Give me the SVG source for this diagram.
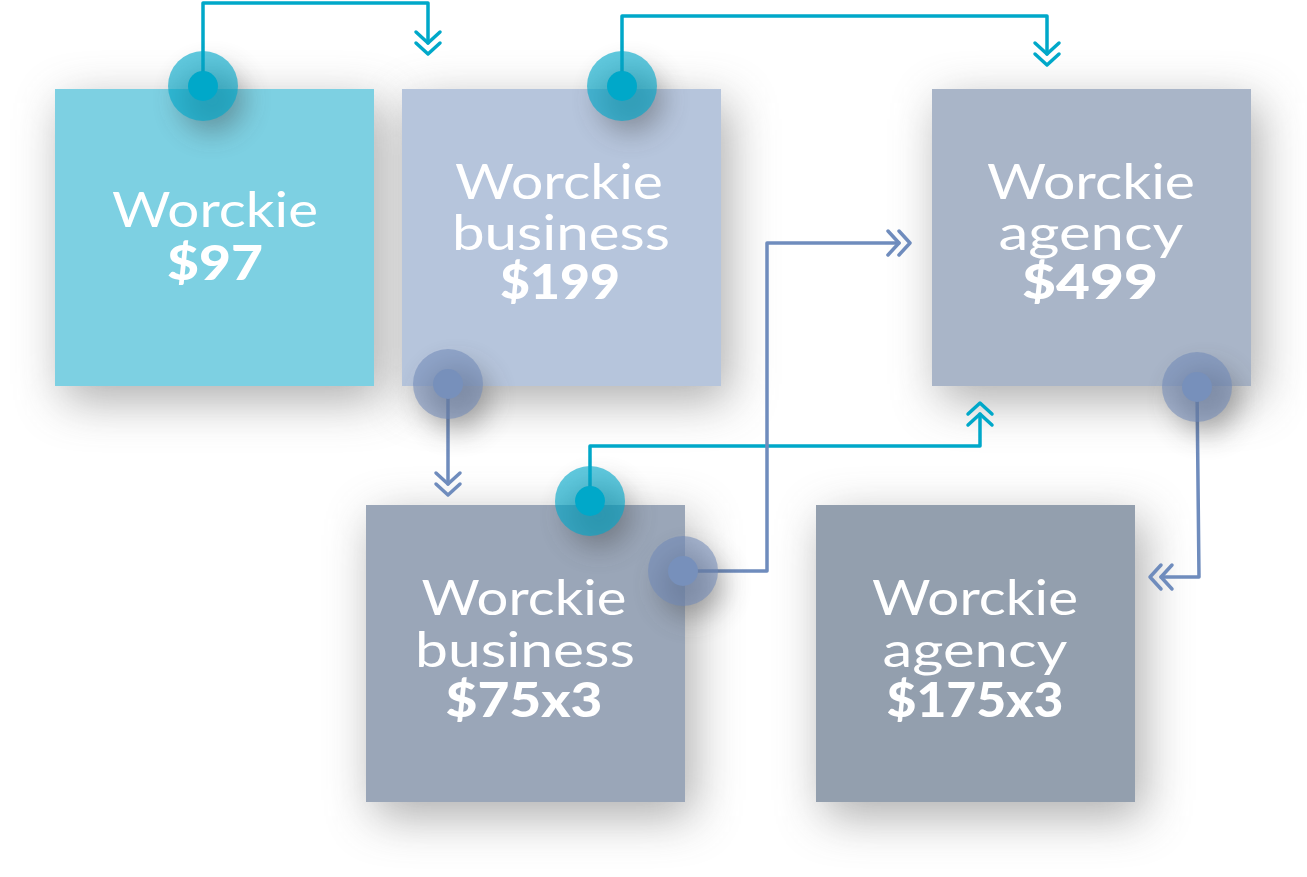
<svg xmlns="http://www.w3.org/2000/svg" xmlns:xlink="http://www.w3.org/1999/xlink" width="1307" height="877" viewBox="0 0 1307 877">
<style>
.lbl{font-family:"Lato","Noto Sans","Liberation Sans",sans-serif;font-size:48px;fill:#ffffff;text-anchor:middle;}
.reg{font-weight:400;}
.price{font-weight:900;}
.teal{stroke:#00a8c9;}
.blue{stroke:#6f8cbd;}
.ln{fill:none;stroke-width:3.5;stroke-linejoin:round;stroke-linecap:round;}
.shadow{fill:#5a5a5a;opacity:0.5;filter:url(#blur);}
.dshadow{fill:#3a3a3a;opacity:0.4;filter:url(#blur2);}
</style>
<defs>
<filter id="blur" x="-40%" y="-40%" width="180%" height="180%">
<feGaussianBlur stdDeviation="24"/>
</filter>
<filter id="blur2" x="-80%" y="-80%" width="260%" height="260%">
<feGaussianBlur stdDeviation="14"/>
</filter>
<path id="chev" d="M-12,-11 L0,0 L12,-11 M-12,0 L0,11 L12,0"/>
</defs>
<rect width="1307" height="877" fill="#ffffff"/>

<g id="shadows">
<rect class="shadow" x="63" y="103" width="319" height="297"/>
<rect class="shadow" x="410" y="103" width="319" height="297"/>
<rect class="shadow" x="940" y="103" width="319" height="297"/>
<rect class="shadow" x="374" y="519" width="319" height="297"/>
<rect class="shadow" x="824" y="519" width="319" height="297"/>
</g>

<g id="node-worckie">
<rect x="55" y="89" width="319" height="297" fill="#7dd0e2"/>
<text class="lbl reg" x="215" y="227" textLength="206" lengthAdjust="spacingAndGlyphs">Worckie</text>
<text class="lbl price" x="215" y="280" textLength="96" lengthAdjust="spacingAndGlyphs">$97</text>
</g>

<g id="node-business">
<rect x="402" y="89" width="319" height="297" fill="#b6c5dc"/>
<text class="lbl reg" x="559" y="199" textLength="208" lengthAdjust="spacingAndGlyphs">Worckie</text>
<text class="lbl reg" x="561" y="250" textLength="218" lengthAdjust="spacingAndGlyphs">business</text>
<text class="lbl price" x="560" y="299" textLength="120" lengthAdjust="spacingAndGlyphs">$199</text>
</g>

<g id="node-agency">
<rect x="932" y="89" width="319" height="297" fill="#a9b5c8"/>
<text class="lbl reg" x="1091" y="199" textLength="208" lengthAdjust="spacingAndGlyphs">Worckie</text>
<text class="lbl reg" x="1091" y="250" textLength="185" lengthAdjust="spacingAndGlyphs">agency</text>
<text class="lbl price" x="1090" y="299" textLength="136" lengthAdjust="spacingAndGlyphs">$499</text>
</g>

<g id="node-business-x3">
<rect x="366" y="505" width="319" height="297" fill="#9aa6b8"/>
<text class="lbl reg" x="524" y="615" textLength="205" lengthAdjust="spacingAndGlyphs">Worckie</text>
<text class="lbl reg" x="525" y="667" textLength="220" lengthAdjust="spacingAndGlyphs">business</text>
<text class="lbl price" x="524" y="717" textLength="157" lengthAdjust="spacingAndGlyphs">$75x3</text>
</g>

<g id="node-agency-x3">
<rect x="816" y="505" width="319" height="297" fill="#939fae"/>
<text class="lbl reg" x="975" y="615" textLength="206" lengthAdjust="spacingAndGlyphs">Worckie</text>
<text class="lbl reg" x="975" y="667" textLength="185" lengthAdjust="spacingAndGlyphs">agency</text>
<text class="lbl price" x="975" y="717" textLength="177" lengthAdjust="spacingAndGlyphs">$175x3</text>
</g>

<g id="connectors">
<path class="ln teal" d="M203,86 V3 H428 V43"/>
<use xlink:href="#chev" class="ln teal" transform="translate(428,43)"/>
<path class="ln teal" d="M622,86 V16 H1047 V54"/>
<use xlink:href="#chev" class="ln teal" transform="translate(1047,54)"/>
<path class="ln blue" d="M448,384 V484"/>
<use xlink:href="#chev" class="ln blue" transform="translate(448,484)"/>
<path class="ln teal" d="M590,501 V446 H980 V414"/>
<use xlink:href="#chev" class="ln teal" transform="translate(980,414) rotate(180)"/>
<path class="ln blue" d="M683,571 H767 V243 H899"/>
<use xlink:href="#chev" class="ln blue" transform="translate(899,243) rotate(-90)"/>
<path class="ln blue" d="M1197,387 L1199,577 H1161"/>
<use xlink:href="#chev" class="ln blue" transform="translate(1161,577) rotate(90)"/>
</g>

<g id="dots">
<circle class="dshadow" cx="212" cy="100" r="32"/>
<circle cx="203" cy="86" r="35" fill="#00a8c9" opacity="0.62"/>
<circle cx="203" cy="86" r="15" fill="#00a8c9"/>
<circle class="dshadow" cx="631" cy="100" r="32"/>
<circle cx="622" cy="86" r="35" fill="#00a8c9" opacity="0.62"/>
<circle cx="622" cy="86" r="15" fill="#00a8c9"/>
<circle class="dshadow" cx="457" cy="398" r="32"/>
<circle cx="448" cy="384" r="35" fill="#6f89b8" opacity="0.55"/>
<circle cx="448" cy="384" r="15" fill="#7790bb"/>
<circle class="dshadow" cx="599" cy="515" r="32"/>
<circle cx="590" cy="501" r="35" fill="#00a8c9" opacity="0.62"/>
<circle cx="590" cy="501" r="15" fill="#00a8c9"/>
<circle class="dshadow" cx="692" cy="585" r="32"/>
<circle cx="683" cy="571" r="35" fill="#6f89b8" opacity="0.55"/>
<circle cx="683" cy="571" r="15" fill="#7790bb"/>
<circle class="dshadow" cx="1206" cy="401" r="32"/>
<circle cx="1197" cy="387" r="35" fill="#6f89b8" opacity="0.55"/>
<circle cx="1197" cy="387" r="15" fill="#7790bb"/>
</g>
</svg>
